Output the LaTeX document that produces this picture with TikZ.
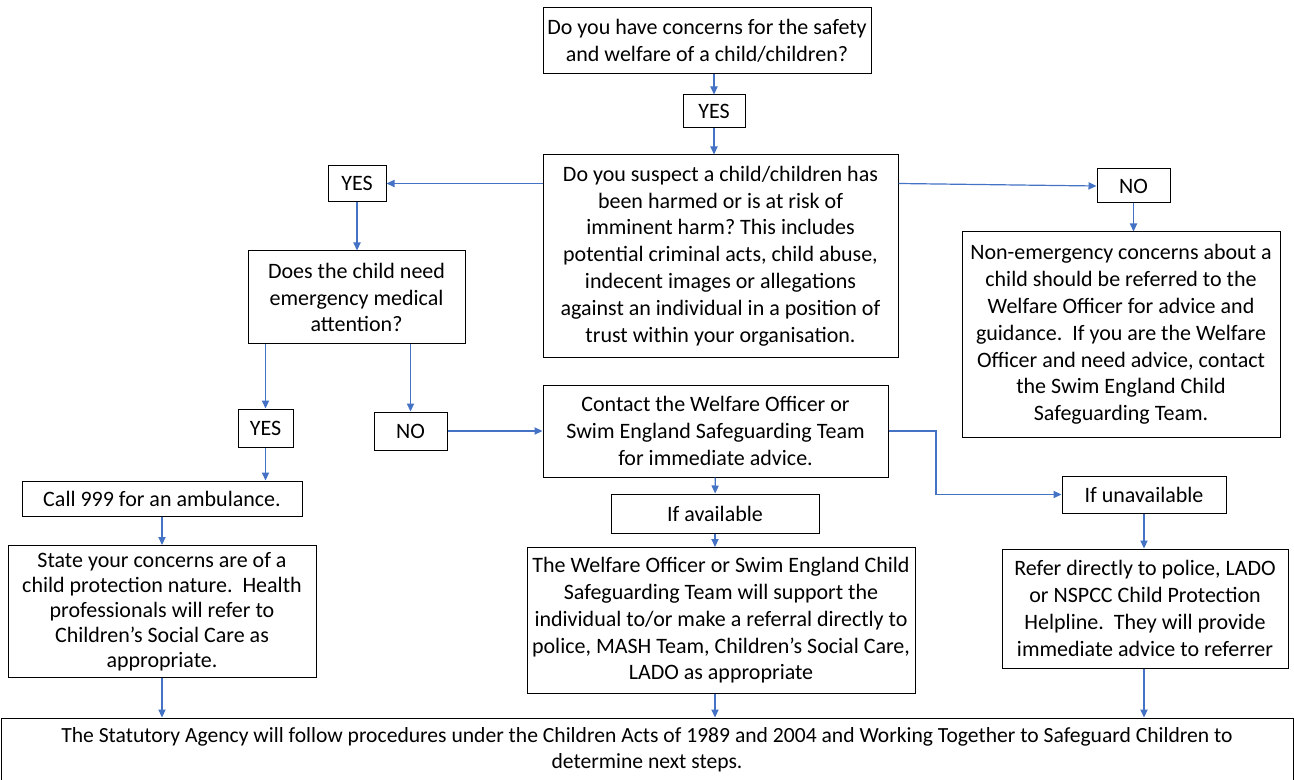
\documentclass[tikz,border=0pt]{standalone}
\usepackage{fontspec}
\setmainfont{Carlito}
\usetikzlibrary{arrows.meta}
\definecolor{flowblue}{HTML}{4472C4}
\frenchspacing

\begin{document}
\begin{tikzpicture}[
    x=0.5pt, y=-0.5pt, % one unit is one pixel of the page
    >={Triangle[length=4pt,width=3.6pt]},
    box/.style={
        rectangle, draw=black, line width=0.5pt, fill=white,
        align=center, inner sep=0pt,
        font=\fontsize{11}{13.4}\selectfont
    },
    % small answer boxes
    answer/.style={box, minimum height=18pt},
    flow/.style={->, draw=flowblue, line width=0.6pt}
]
    \useasboundingbox (0,0) rectangle (1294,780);

    % --- TOP: first question ---
    \node[box, minimum width=164pt, minimum height=33pt] (Concern) at (707,41)
        {Do you have concerns for the safety\\and welfare of a child/children?};
    \node[answer, minimum width=31pt, minimum height=16.5pt] (YesConcern) at (714,111.5) {YES};
    \node[box, minimum width=177.5pt, minimum height=101pt] (Suspect) at (720.5,256)
        {Do you suspect a child/children has\\been harmed or is at risk of\\imminent harm? This includes\\potential criminal acts, child abuse,\\indecent images or allegations\\against an individual in a position of\\trust within your organisation.};

    % --- LEFT: harm suspected ---
    \node[answer, minimum width=29pt] (YesHarm) at (357,183.5) {YES};
    \node[box, minimum width=108.5pt, minimum height=46.5pt] (Medical) at (356.5,297.5)
        {Does the child need\\emergency medical\\attention?};
    \node[answer, minimum width=27.5pt, minimum height=19pt] (YesMedical) at (265.5,428) {YES};
    \node[answer, minimum width=36.5pt, minimum height=19pt] (NoMedical) at (410.5,431) {NO};
    \node[box, minimum width=140pt, minimum height=17.5pt] (Ambulance) at (162,498.5)
        {Call 999 for an ambulance.};
    \node[box, minimum width=154pt, minimum height=66pt, font=\fontsize{11}{12.5}\selectfont] (StateConcern) at (162,611.5)
        {State your concerns are of a\\child protection nature.~ Health\\professionals will refer to\\Children’s Social Care as\\appropriate.};

    % --- RIGHT: no harm suspected ---
    \node[answer, minimum width=36.5pt, minimum height=17pt] (NoHarm) at (1133.5,186) {NO};
    \node[box, minimum width=159pt, minimum height=102.5pt] (NonEmergency) at (1121,334.5)
        {Non-emergency concerns about a\\child should be referred to the\\Welfare Officer for advice and\\guidance.~ If you are the Welfare\\Officer and need advice, contact\\the Swim England Child\\Safeguarding Team.};

    % --- MIDDLE: contact and referral ---
    \node[box, minimum width=172.5pt, minimum height=46pt] (Contact) at (715.5,431)
        {Contact the Welfare Officer or\\Swim England Safeguarding Team\\for immediate advice.};
    \node[box, minimum width=104pt, minimum height=19.5pt] (Available) at (715,513.5) {If available};
    \node[box, minimum width=82pt, minimum height=18.5pt] (Unavailable) at (1144,494.5) {If unavailable};
    \node[box, minimum width=194pt, minimum height=73pt] (Welfare) at (721,620.5)
        {The Welfare Officer or Swim England Child\\Safeguarding Team will support the\\individual to/or make a referral directly to\\police, MASH Team, Children’s Social Care,\\LADO as appropriate};
    \node[box, minimum width=143pt, minimum height=59.5pt] (Refer) at (1145,608.5)
        {Refer directly to police, LADO\\or NSPCC Child Protection\\Helpline.~ They will provide\\immediate advice to referrer};
    \coordinate (Bend) at (936,463);

    % --- BOTTOM ---
    \node[box, minimum width=646pt, minimum height=32pt, font=\fontsize{10.8}{13}\selectfont] (Statutory) at (647,750)
        {The Statutory Agency will follow procedures under the Children Acts of 1989 and 2004 and Working Together to Safeguard Children to\\determine next steps.};

    % --- EDGES ---
    \draw[flow] (YesConcern |- Concern.south) -- (YesConcern);
    \draw[flow] (YesConcern) -- (YesConcern |- Suspect.north);
    \draw[flow] (Suspect.west |- YesHarm) -- (YesHarm);
    \draw[flow] (Suspect.east |- YesHarm) -- (NoHarm.west);
    \draw[flow] (NoHarm) -- (NoHarm |- NonEmergency.north);

    \draw[flow] (YesHarm) -- (YesHarm |- Medical.north);
    \draw[flow] (YesMedical |- Medical.south) -- (YesMedical);
    \draw[flow] (NoMedical |- Medical.south) -- (NoMedical);
    \draw[flow] (NoMedical) -- (NoMedical -| Contact.west);
    \draw[flow] (YesMedical) -- (YesMedical |- Ambulance.north);
    \draw[flow] (Ambulance) -- (StateConcern);

    \draw[flow] (Contact) -- (Available);
    \draw[flow] (Available) -- (Available |- Welfare.north);
    \draw[flow] (Contact.east) -| (Bend) |- (Unavailable.west);
    \draw[flow] (Unavailable) -- (Unavailable |- Refer.north);

    \draw[flow] (StateConcern) -- (StateConcern |- Statutory.north);
    \draw[flow] (Available |- Welfare.south) -- (Available |- Statutory.north);
    \draw[flow] (Unavailable |- Refer.south) -- (Unavailable |- Statutory.north);

\end{tikzpicture}
\end{document}
